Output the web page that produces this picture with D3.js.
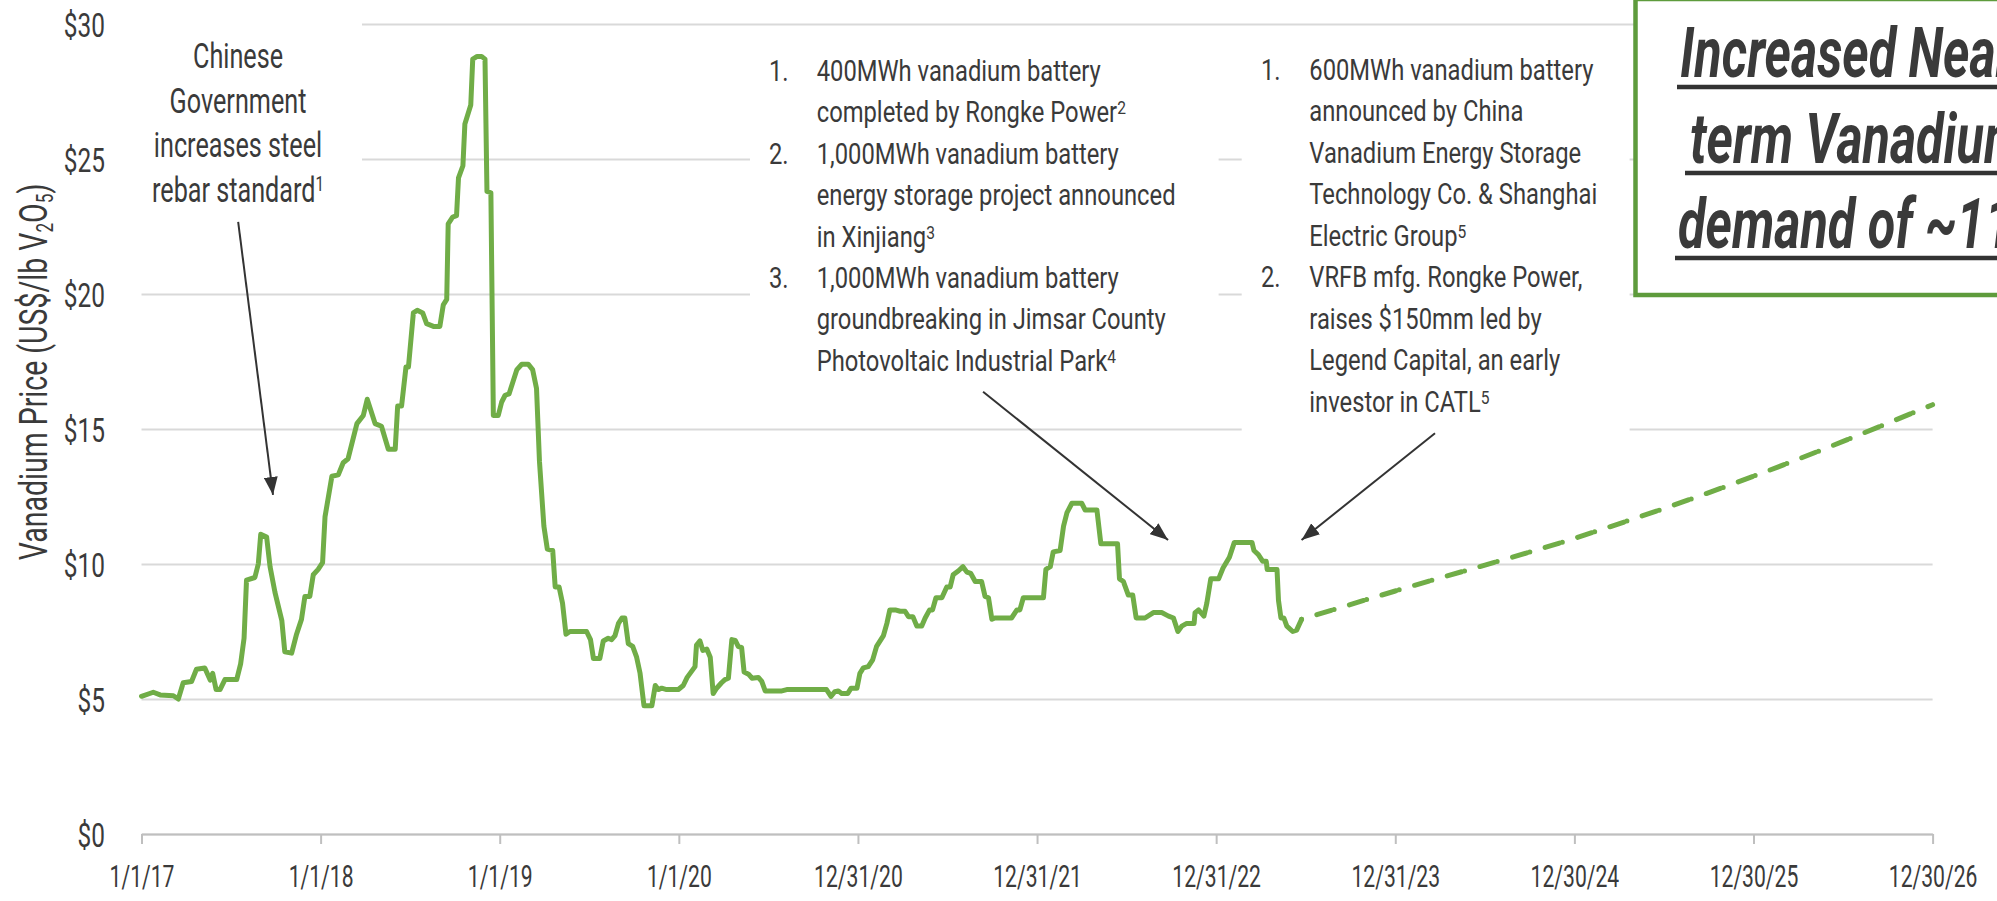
<!DOCTYPE html>
<html>
<head>
<meta charset="utf-8">
<script src="https://cdn.jsdelivr.net/npm/d3@7"></script>
<style>
  body { margin: 0; background: #fff; }
  svg { display: block; }
  text { font-family: Roboto, "Liberation Sans", sans-serif; fill: #3a3a3a; }
</style>
</head>
<body>
<div id="chart"></div>
<script>
// Vanadium price history, US$/lb V2O5
const priceDates = [
  "2017-01-01","2017-01-25","2017-02-08","2017-03-07","2017-03-17","2017-03-27","2017-04-13","2017-04-23","2017-05-10","2017-05-21",
  "2017-05-26","2017-06-02","2017-06-10","2017-06-20","2017-07-14","2017-07-22","2017-07-29","2017-08-03","2017-08-20","2017-08-27",
  "2017-09-01","2017-09-13","2017-09-20","2017-09-30","2017-10-14","2017-10-20","2017-11-03","2017-11-13","2017-11-23","2017-11-30",
  "2017-12-10","2017-12-17","2017-12-27",
  "2018-01-05","2018-01-10","2018-01-24","2018-02-06","2018-02-16","2018-02-26","2018-03-16","2018-03-29","2018-04-06","2018-04-22",
  "2018-05-05","2018-05-19","2018-06-02","2018-06-07","2018-06-15","2018-06-24","2018-06-29","2018-07-09","2018-07-17","2018-07-28",
  "2018-08-05","2018-08-19","2018-09-01","2018-09-08","2018-09-15","2018-09-18","2018-09-27","2018-10-05","2018-10-09","2018-10-18",
  "2018-10-22","2018-11-03","2018-11-07","2018-11-16","2018-11-25","2018-12-02","2018-12-06","2018-12-14","2018-12-19","2018-12-29",
  "2019-01-05","2019-01-12","2019-01-20","2019-01-28","2019-02-05","2019-02-15","2019-02-28","2019-03-09","2019-03-17","2019-03-23",
  "2019-04-01","2019-04-08","2019-04-19","2019-04-24","2019-05-02","2019-05-09","2019-05-16","2019-05-24","2019-06-27","2019-07-05",
  "2019-07-11","2019-07-24","2019-07-31","2019-08-10","2019-08-17","2019-08-24","2019-08-31","2019-09-07","2019-09-13","2019-09-20",
  "2019-09-29","2019-10-07","2019-10-14","2019-10-22","2019-11-07","2019-11-14","2019-11-20","2019-11-27","2019-12-07","2019-12-31",
  "2020-01-10","2020-01-18","2020-02-03","2020-02-06","2020-02-13","2020-02-19","2020-02-27","2020-03-05","2020-03-11","2020-03-18",
  "2020-03-28","2020-04-04","2020-04-11","2020-04-18","2020-04-25","2020-05-01","2020-05-08","2020-05-13","2020-05-22","2020-05-29",
  "2020-06-11","2020-06-18","2020-06-25","2020-07-29","2020-08-08","2020-10-28","2020-11-06","2020-11-14","2020-11-21","2020-11-28",
  "2020-12-10","2020-12-17","2020-12-29",
  "2021-01-04","2021-01-11","2021-01-21","2021-01-30","2021-02-07","2021-02-21","2021-02-28","2021-03-06","2021-03-17","2021-03-27",
  "2021-04-06","2021-04-13","2021-04-22","2021-04-30","2021-05-10","2021-05-17","2021-05-26","2021-06-01","2021-06-08","2021-06-20",
  "2021-06-30","2021-07-07","2021-07-13","2021-07-24","2021-08-02","2021-08-10","2021-08-18","2021-08-27","2021-09-09","2021-09-16",
  "2021-09-23","2021-09-30","2021-10-06","2021-11-09","2021-11-20","2021-11-26","2021-12-03",
  "2022-01-13","2022-01-18","2022-01-27","2022-02-02","2022-02-16","2022-02-23","2022-03-02","2022-03-12","2022-04-01","2022-04-08",
  "2022-05-02","2022-05-10","2022-06-13","2022-06-17","2022-06-25","2022-07-05","2022-07-14","2022-07-21","2022-08-08","2022-08-25",
  "2022-09-11","2022-09-25","2022-10-05","2022-10-14","2022-10-22","2022-11-01","2022-11-16","2022-11-18","2022-11-25","2022-12-06",
  "2022-12-12","2022-12-20",
  "2023-01-05","2023-01-14","2023-01-27","2023-02-06","2023-02-14","2023-03-14","2023-03-18","2023-03-27","2023-04-05","2023-04-12",
  "2023-04-14","2023-05-04","2023-05-07","2023-05-12","2023-05-18","2023-05-24","2023-06-05","2023-06-13","2023-06-23"
];
const priceValues = [
  5.1,5.25,5.15,5.12,5.0,5.6,5.65,6.1,6.15,5.7,
  5.95,5.35,5.35,5.72,5.72,6.3,7.25,9.4,9.5,10.0,
  11.1,11.0,9.9,8.95,7.9,6.75,6.7,7.4,7.95,8.8,
  8.8,9.6,9.8,
  10.05,11.75,13.25,13.3,13.75,13.9,15.2,15.5,16.1,15.2,
  15.1,14.25,14.25,15.85,15.85,17.3,17.3,19.3,19.4,19.3,
  18.9,18.8,18.8,19.6,19.8,22.6,22.85,22.9,24.3,24.75,
  26.3,27.0,28.7,28.8,28.8,28.7,23.8,23.75,15.5,15.5,
  16.0,16.25,16.3,16.75,17.2,17.4,17.4,17.2,16.5,13.8,
  11.4,10.55,10.5,9.15,9.15,8.55,7.4,7.5,7.5,7.2,
  6.5,6.5,7.15,7.25,7.2,7.35,7.8,8.0,8.0,7.05,
  6.95,6.55,5.95,4.75,4.75,5.5,5.35,5.4,5.35,5.35,
  5.5,5.8,6.2,7.0,7.15,6.8,6.85,6.55,5.2,5.4,
  5.6,5.72,5.77,7.2,7.17,6.95,6.9,6.0,5.92,5.77,
  5.8,5.65,5.3,5.3,5.35,5.35,5.1,5.27,5.3,5.2,
  5.2,5.4,5.4,
  5.95,6.15,6.2,6.45,6.95,7.35,7.8,8.3,8.3,8.25,
  8.25,8.05,8.05,7.7,7.7,8.0,8.3,8.3,8.75,8.75,
  9.15,9.15,9.6,9.75,9.9,9.7,9.65,9.35,9.35,8.8,
  8.75,7.95,8.0,8.0,8.3,8.3,8.75,
  8.75,9.8,9.9,10.45,10.5,11.4,11.9,12.25,12.25,12.0,
  12.0,10.75,10.75,9.45,9.35,8.85,8.85,8.0,8.0,8.2,
  8.2,8.07,8.0,7.5,7.7,7.8,7.8,8.2,8.3,8.07,
  8.55,9.45,
  9.45,9.85,10.25,10.8,10.8,10.8,10.5,10.35,10.1,10.1,
  9.8,9.8,8.65,8.0,8.0,7.7,7.5,7.55,7.95
];

// projected price (dashed)
const projDates = ["2023-06-23","2023-12-31","2024-12-30","2025-12-30","2026-12-30"];
const projValues = [7.95, 9.0, 10.95, 13.25, 15.9];

const yTicks = [0, 5, 10, 15, 20, 25, 30];
const xTickLabels = ["1/1/17","1/1/18","1/1/19","1/1/20","12/31/20","12/31/21","12/31/22","12/31/23","12/30/24","12/30/25","12/30/26"];

// annotation texts
const steelNote = ["Chinese", "Government", "increases steel", "rebar standard"];
const steelSup = "1";
const midNotes = [
  {num: "1.", lines: ["400MWh vanadium battery", "completed by Rongke Power"], sup: "2"},
  {num: "2.", lines: ["1,000MWh vanadium battery", "energy storage project announced", "in Xinjiang"], sup: "3"},
  {num: "3.", lines: ["1,000MWh vanadium battery", "groundbreaking in Jimsar County", "Photovoltaic Industrial Park"], sup: "4"}
];
const rightNotes = [
  {num: "1.", lines: ["600MWh vanadium battery", "announced by China", "Vanadium Energy Storage", "Technology Co. & Shanghai", "Electric Group"], sup: "5"},
  {num: "2.", lines: ["VRFB mfg. Rongke Power,", "raises $150mm led by", "Legend Capital, an early", "investor in CATL"], sup: "5"}
];
const calloutLines = ["Increased Near-", "term Vanadium", "demand of ~11x"];

// arrows: [date, value] from -> to
const arrows = [
  {from: ["2017-07-17", 22.67], to: ["2017-09-26", 12.56]},
  {from: ["2021-09-12", 16.38], to: ["2022-09-24", 10.89]},
  {from: ["2024-03-21", 14.84], to: ["2023-06-23", 10.89]}
];

const W = 1997, H = 901;
const x0 = 141.5, x1 = 1932.6, yBase = 834, yTop = 24;
const green = "#70ad47", ink = "#3a3a3a";

const parseDate = d3.timeParse("%Y-%m-%d");
const parseTick = d3.timeParse("%m/%d/%y");

const price = priceDates.map((d, i) => ({date: parseDate(d), value: priceValues[i]}));
const proj = projDates.map((d, i) => ({date: parseDate(d), value: projValues[i]}));
const xTickDates = xTickLabels.map(parseTick);

const svg = d3.select("#chart")
  .append("svg")
  .attr("width", W)
  .attr("height", H);

const x = d3.scaleTime()
  .domain([xTickDates[0], xTickDates[xTickDates.length - 1]])
  .range([x0, x1]);
const y = d3.scaleLinear().domain([0, 30]).range([yBase, yTop]);

// gridlines + y labels
const gy = svg.append("g")
  .attr("transform", `translate(${x0},0)`)
  .call(d3.axisLeft(y).tickValues(yTicks).tickSize(-(x1 - x0)).tickFormat(d => "$" + d));
gy.select(".domain").remove();
gy.selectAll(".tick line").attr("stroke", "#d9d9d9").attr("stroke-width", 2);
gy.selectAll(".tick text")
  .attr("x", null).attr("dy", null)
  .attr("text-anchor", "end")
  .attr("font-size", 33)
  .attr("fill", ink)
  .attr("transform", `translate(${105 - x0},12) scale(0.74,1)`);

// white boxes behind annotation texts (they break the gridlines)
const boxes = [
  [120, 0, 362, 215],
  [750, 30, 1218.6, 385],
  [1241.7, 30, 1629.6, 434]
];
svg.append("g").selectAll("rect")
  .data(boxes)
  .join("rect")
  .attr("x", d => d[0]).attr("y", d => d[1])
  .attr("width", d => d[2] - d[0]).attr("height", d => d[3] - d[1])
  .attr("fill", "#fff");

// x axis
const gx = svg.append("g")
  .attr("transform", `translate(0,${yBase})`)
  .call(d3.axisBottom(x).tickValues(xTickDates).tickSize(10).tickSizeOuter(0)
    .tickFormat((d, i) => xTickLabels[i]));
gx.select(".domain").attr("stroke", "#bfbfbf").attr("stroke-width", 2);
gx.selectAll(".tick line").attr("stroke", "#bfbfbf").attr("stroke-width", 2);
gx.selectAll(".tick text")
  .attr("y", null).attr("dy", null)
  .attr("font-size", 32)
  .attr("fill", ink)
  .attr("transform", "translate(0,53) scale(0.66,1)");

// y axis title
const yt = svg.append("text")
  .attr("transform", "translate(47,372) rotate(-90) scale(0.75,1)")
  .attr("text-anchor", "middle")
  .attr("font-size", 38);
yt.append("tspan").text("Vanadium Price (US$/lb V");
yt.append("tspan").attr("font-size", 23).attr("dy", 6).text("2");
yt.append("tspan").attr("dy", -6).text("O");
yt.append("tspan").attr("font-size", 23).attr("dy", 6).text("5");
yt.append("tspan").attr("dy", -6).text(")");

// price line
const line = d3.line().x(d => x(d.date)).y(d => y(d.value));
svg.append("path")
  .datum(price)
  .attr("d", line)
  .attr("fill", "none")
  .attr("stroke", green)
  .attr("stroke-width", 5)
  .attr("stroke-linejoin", "round")
  .attr("stroke-linecap", "round");

// projection
svg.append("path")
  .datum(proj)
  .attr("d", line.curve(d3.curveMonotoneX))
  .attr("fill", "none")
  .attr("stroke", green)
  .attr("stroke-width", 5)
  .attr("stroke-dasharray", "0,16,15,3")
  .attr("stroke-linecap", "round");

// arrows
svg.append("defs").append("marker")
  .attr("id", "head")
  .attr("markerUnits", "userSpaceOnUse")
  .attr("viewBox", "0 0 18 14")
  .attr("refX", 18).attr("refY", 7)
  .attr("markerWidth", 18).attr("markerHeight", 14)
  .attr("orient", "auto")
  .append("path")
  .attr("d", "M0,0 L18,7 L0,14 Z")
  .attr("fill", "#333");

svg.append("g").selectAll("line")
  .data(arrows)
  .join("line")
  .attr("x1", d => x(parseDate(d.from[0]))).attr("y1", d => y(d.from[1]))
  .attr("x2", d => x(parseDate(d.to[0]))).attr("y2", d => y(d.to[1]))
  .attr("stroke", "#333")
  .attr("stroke-width", 2)
  .attr("marker-end", "url(#head)");

// condensed text helper
function cText(parent, tx, ty, str, size, sx, anchor) {
  return parent.append("text")
    .attr("transform", `translate(${tx},${ty}) scale(${sx},1)`)
    .attr("text-anchor", anchor || "start")
    .attr("font-size", size)
    .text(str);
}

// steel note
const notes = svg.append("g");
steelNote.forEach((s, i) => {
  const t = cText(notes, 238, 68 + i * 44.6, s, 35, 0.72, "middle");
  if (i === steelNote.length - 1) {
    t.append("tspan").attr("font-size", 21).attr("dy", -11).text(steelSup);
  }
});

// numbered lists
function numbered(list, numX, textX, top, step) {
  let row = 0;
  list.forEach(item => {
    item.lines.forEach((s, i) => {
      const by = top + row * step;
      if (i === 0) cText(notes, numX, by, item.num, 29, 0.82);
      const t = cText(notes, textX, by, s, 29, 0.82);
      if (i === item.lines.length - 1) {
        t.append("tspan").attr("font-size", 19).attr("dy", -8).text(item.sup);
      }
      row++;
    });
  });
}
numbered(midNotes, 769, 816.7, 81, 41.4);
numbered(rightNotes, 1261, 1309.3, 80, 41.45);

// callout box at the right edge (runs off the page, as in the source slide)
const callout = svg.append("g");
callout.append("rect")
  .attr("x", 1635.5).attr("y", -1)
  .attr("width", 500).attr("height", 296)
  .attr("fill", "#fff")
  .attr("stroke", "#5e9b3c")
  .attr("stroke-width", 4.5);
const cx = [1680, 1690, 1678], cy = [77, 163, 248], ux = [1677, 1685, 1675];
calloutLines.forEach((s, i) => {
  callout.append("text")
    .attr("transform", `translate(${cx[i]},${cy[i]}) scale(0.72,1)`)
    .attr("font-size", 70)
    .attr("font-weight", 700)
    .attr("font-style", "italic")
    .attr("fill", "#333")
    .text(s);
  callout.append("line")
    .attr("x1", ux[i]).attr("x2", 2100)
    .attr("y1", cy[i] + 10).attr("y2", cy[i] + 10)
    .attr("stroke", "#333").attr("stroke-width", 4.3);
});
</script>
</body>
</html>
